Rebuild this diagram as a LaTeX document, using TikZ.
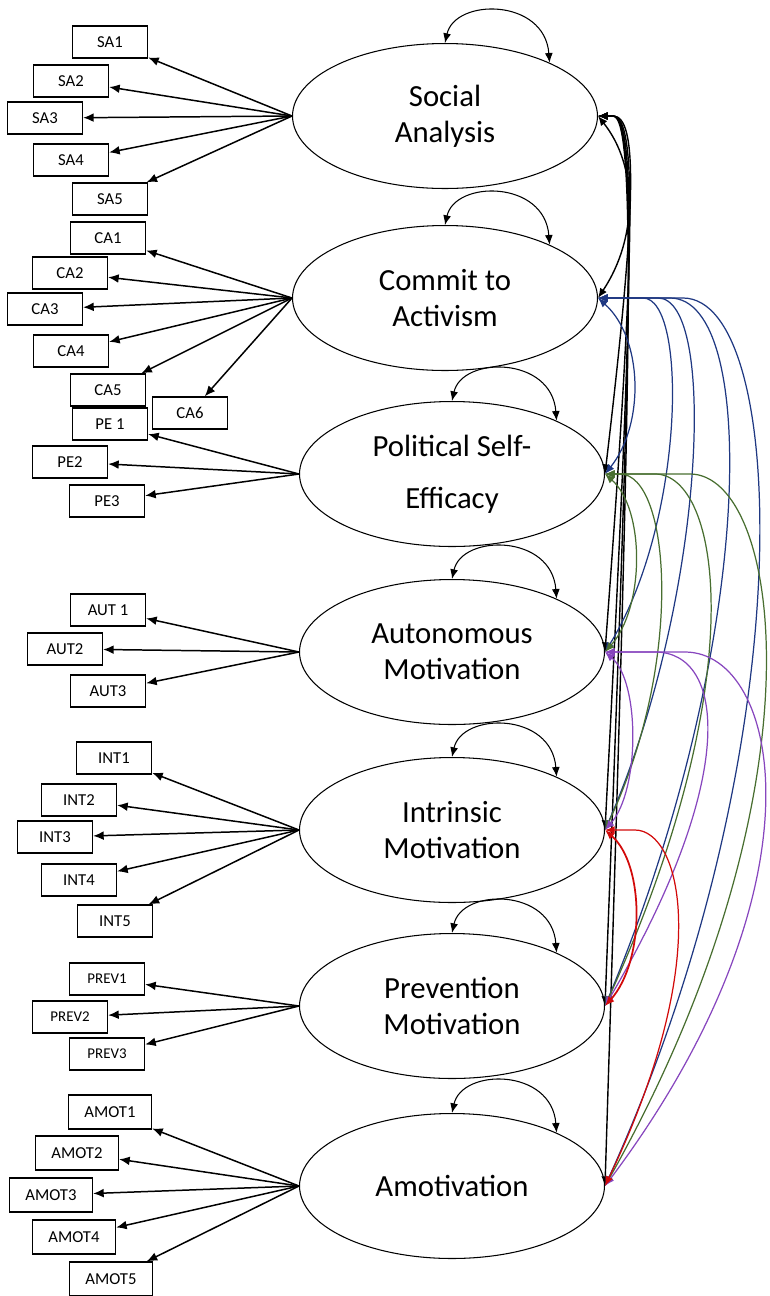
\documentclass[tikz,border=0pt]{standalone}
\usepackage{fontspec}
\setmainfont{Carlito}
\usepackage{tikz}
\usetikzlibrary{shapes.geometric, arrows.meta}
\definecolor{covblue}{RGB}{31,56,130}
\definecolor{covgreen}{RGB}{72,110,48}
\definecolor{covpurple}{RGB}{135,70,190}
\definecolor{covred}{RGB}{210,10,10}
\tikzstyle{factor} = [ellipse, draw=black, line width=0.6pt, minimum width=6.1cm, minimum height=2.9cm, inner sep=0pt, align=center, font=\fontsize{17.5}{20.5}\selectfont]
\tikzstyle{indicator} = [rectangle, draw=black, line width=0.75pt, minimum width=1.5cm, minimum height=0.64cm, inner sep=1pt, font=\fontsize{9.5}{11}\selectfont]
\tikzstyle{indicator_wide} = [indicator, minimum width=1.66cm, minimum height=0.68cm]
\tikzstyle{arrow} = [line width=0.85pt,->,>={Latex[length=6pt,width=5pt]}]
\tikzstyle{variance} = [line width=0.6pt,<->,>={Latex[length=5.5pt,width=4.5pt]}]
\tikzstyle{cov_black} = [line width=0.8pt,<->,>={Latex[length=5.5pt,width=4.5pt]}, draw=black]
\tikzstyle{cov_blue} = [line width=0.7pt,<->,>={Latex[length=5.5pt,width=4.5pt]}, draw=covblue]
\tikzstyle{cov_green} = [line width=0.7pt,<->,>={Latex[length=5.5pt,width=4.5pt]}, draw=covgreen]
\tikzstyle{cov_purple} = [line width=0.7pt,<->,>={Latex[length=5.5pt,width=4.5pt]}, draw=covpurple]
\tikzstyle{cov_red} = [line width=0.7pt,<->,>={Latex[length=5.5pt,width=4.5pt]}, draw=covred]

\begin{document}
\begin{tikzpicture}[x=0.02cm, y=-0.02cm]
\useasboundingbox (0,0) rectangle (769,1296);
%
% latent factors
\node (social_an) [factor] at (445,116) {Social\\Analysis};
\node (commit_act) [factor] at (445,298) {Commit to\\Activism};
\node (pol_eff) [factor] at (452,474) {Political Self-\\[9pt]Efficacy};
\node (aut_mot) [factor] at (452,652) {Autonomous\\Motivation};
\node (int_mot) [factor] at (452,830) {Intrinsic\\Motivation};
\node (prev_mot) [factor] at (452,1006) {Prevention\\Motivation};
\node (amotiv) [factor] at (452,1186) {Amotivation};
%
% indicators
\node (sa1) [indicator] at (110,42) {SA1};
\node (sa2) [indicator] at (71,81) {SA2};
\node (sa3) [indicator] at (45,118) {SA3};
\node (sa4) [indicator] at (71,160) {SA4};
\node (sa5) [indicator] at (110,199) {SA5};
\node (ca1) [indicator] at (108,238) {CA1};
\node (ca2) [indicator] at (70,273) {CA2};
\node (ca3) [indicator] at (45,309) {CA3};
\node (ca4) [indicator] at (71,351) {CA4};
\node (ca5) [indicator] at (108,390) {CA5};
\node (ca6) [indicator] at (190,413) {CA6};
\node (pe1) [indicator] at (110,424) {PE 1};
\node (pe2) [indicator] at (70,462) {PE2};
\node (pe3) [indicator] at (107,501) {PE3};
\node (aut1) [indicator] at (108,610) {AUT 1};
\node (aut2) [indicator] at (65,649) {AUT2};
\node (aut3) [indicator] at (108,691) {AUT3};
\node (int1) [indicator] at (114,758) {INT1};
\node (int2) [indicator] at (79,800) {INT2};
\node (int3) [indicator] at (55,837) {INT3};
\node (int4) [indicator] at (79,880) {INT4};
\node (int5) [indicator] at (115,921) {INT5};
\node (prev1) [indicator, font=\fontsize{8.5}{10}\selectfont] at (107,979) {PREV1};
\node (prev2) [indicator, font=\fontsize{8.5}{10}\selectfont] at (70,1017) {PREV2};
\node (prev3) [indicator, font=\fontsize{8.5}{10}\selectfont] at (107,1054) {PREV3};
\node (amot1) [indicator_wide] at (110,1112) {AMOT1};
\node (amot2) [indicator_wide] at (77,1153) {AMOT2};
\node (amot3) [indicator_wide] at (51,1195) {AMOT3};
\node (amot4) [indicator_wide] at (74,1237) {AMOT4};
\node (amot5) [indicator_wide] at (111,1279) {AMOT5};
%
% loadings
\draw [arrow] (social_an.west) -- (sa1);
\draw [arrow] (social_an.west) -- (sa2);
\draw [arrow] (social_an.west) -- (sa3);
\draw [arrow] (social_an.west) -- (sa4);
\draw [arrow] (social_an.west) -- (sa5);
\draw [arrow] (commit_act.west) -- (ca1);
\draw [arrow] (commit_act.west) -- (ca2);
\draw [arrow] (commit_act.west) -- (ca3);
\draw [arrow] (commit_act.west) -- (ca4);
\draw [arrow] (commit_act.west) -- (ca5);
\draw [arrow] (commit_act.west) -- (ca6);
\draw [arrow] (pol_eff.west) -- (pe1);
\draw [arrow] (pol_eff.west) -- (pe2);
\draw [arrow] (pol_eff.west) -- (pe3);
\draw [arrow] (aut_mot.west) -- (aut1);
\draw [arrow] (aut_mot.west) -- (aut2);
\draw [arrow] (aut_mot.west) -- (aut3);
\draw [arrow] (int_mot.west) -- (int1);
\draw [arrow] (int_mot.west) -- (int2);
\draw [arrow] (int_mot.west) -- (int3);
\draw [arrow] (int_mot.west) -- (int4);
\draw [arrow] (int_mot.west) -- (int5);
\draw [arrow] (prev_mot.west) -- (prev1);
\draw [arrow] (prev_mot.west) -- (prev2);
\draw [arrow] (prev_mot.west) -- (prev3);
\draw [arrow] (amotiv.west) -- (amot1);
\draw [arrow] (amotiv.west) -- (amot2);
\draw [arrow] (amotiv.west) -- (amot3);
\draw [arrow] (amotiv.west) -- (amot4);
\draw [arrow] (amotiv.west) -- (amot5);
%
% variances
\draw [variance] (social_an.north) .. controls +(10,-45) and +(-5,-65) .. (social_an.27);
\draw [variance] (commit_act.north) .. controls +(10,-45) and +(-5,-65) .. (commit_act.27);
\draw [variance] (pol_eff.north) .. controls +(10,-45) and +(-5,-65) .. (pol_eff.27);
\draw [variance] (aut_mot.north) .. controls +(10,-45) and +(-5,-65) .. (aut_mot.27);
\draw [variance] (int_mot.north) .. controls +(10,-45) and +(-5,-65) .. (int_mot.27);
\draw [variance] (prev_mot.north) .. controls +(10,-45) and +(-5,-65) .. (prev_mot.27);
\draw [variance] (amotiv.north) .. controls +(10,-45) and +(-5,-65) .. (amotiv.27);
%
% covariances
\draw [cov_black] (social_an.east) .. controls +(40,50) and +(40,-60) .. (commit_act.east);
\draw [cov_black] (social_an.east) -- ++(15,0) .. controls +(25,0) and +(32,-270) .. (pol_eff.east);
\draw [cov_black] (social_an.east) -- ++(15,0) .. controls +(25,0) and +(30,-400) .. (aut_mot.east);
\draw [cov_black] (social_an.east) -- ++(15,0) .. controls +(25,0) and +(28,-535) .. (int_mot.east);
\draw [cov_black] (social_an.east) -- ++(15,0) .. controls +(25,0) and +(26,-670) .. (prev_mot.east);
\draw [cov_black] (social_an.east) -- ++(15,0) .. controls +(25,0) and +(25,-800) .. (amotiv.east);
%
\draw [cov_blue] (commit_act.east) .. controls +(45,40) and +(40,-50) .. (pol_eff.east);
\draw [cov_blue] (commit_act.east) -- ++(45,0) .. controls +(45,0) and +(80,-130) .. (aut_mot.east);
\draw [cov_blue] (commit_act.east) -- ++(60,0) .. controls +(60,0) and +(100,-230) .. (int_mot.east);
\draw [cov_blue] (commit_act.east) -- ++(72,0) .. controls +(90,0) and +(150,-360) .. (prev_mot.east);
\draw [cov_blue] (commit_act.east) -- ++(85,0) .. controls +(105,0) and +(200,-440) .. (amotiv.east);
%
\draw [cov_green] (pol_eff.east) .. controls +(40,35) and +(40,-45) .. (aut_mot.east);
\draw [cov_green] (pol_eff.east) -- ++(15,0) .. controls +(50,0) and +(80,-170) .. (int_mot.east);
\draw [cov_green] (pol_eff.east) -- ++(50,0) .. controls +(65,0) and +(150,-330) .. (prev_mot.east);
\draw [cov_green] (pol_eff.east) -- ++(85,0) .. controls +(90,0) and +(225,-400) .. (amotiv.east);
%
\draw [cov_purple] (aut_mot.east) .. controls +(35,30) and +(35,-40) .. (int_mot.east);
\draw [cov_purple] (aut_mot.east) -- ++(50,0) .. controls +(70,0) and +(135,-230) .. (prev_mot.east);
\draw [cov_purple] (aut_mot.east) -- ++(80,0) .. controls +(95,0) and +(225,-300) .. (amotiv.east);
%
\draw [cov_red, line width=1pt] (int_mot.east) .. controls +(40,35) and +(40,-45) .. (prev_mot.east);
\draw [cov_red] (int_mot.east) -- ++(30,0) .. controls +(45,0) and +(110,-230) .. (amotiv.east);
%
\end{tikzpicture}
\end{document}
